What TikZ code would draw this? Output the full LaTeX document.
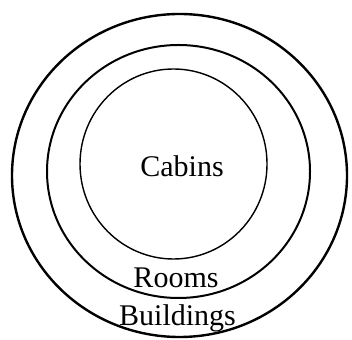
\documentclass[tikz,border=0pt]{standalone}
\usepackage{fontspec}
\setmainfont{Liberation Serif}
\usetikzlibrary{shapes.geometric}
\begin{document}
\begin{tikzpicture}[x=1pt,y=1pt,
  ring/.style={ellipse, draw=black, inner sep=0pt, outer sep=0pt},
  lbl/.style={anchor=base, inner sep=0pt, font=\fontsize{30}{30}\selectfont}]
\useasboundingbox (0,0) rectangle (352,339);
\node[ring, line width=2.4pt, minimum width=335pt, minimum height=323pt] (outer) at (179.5,163.5) {};
\node[ring, line width=2pt, minimum width=263pt, minimum height=253pt] (middle) at (178.5,167.5) {};
\node[ring, line width=1.4pt, minimum width=187pt, minimum height=190pt] (inner) at (173.5,175) {};
\node[lbl] (cabins) at (182,162) {Cabins};
\node[lbl] (rooms) at (176,52) {Rooms};
\node[lbl] (buildings) at (177.5,14) {Buildings};
\end{tikzpicture}
\end{document}
